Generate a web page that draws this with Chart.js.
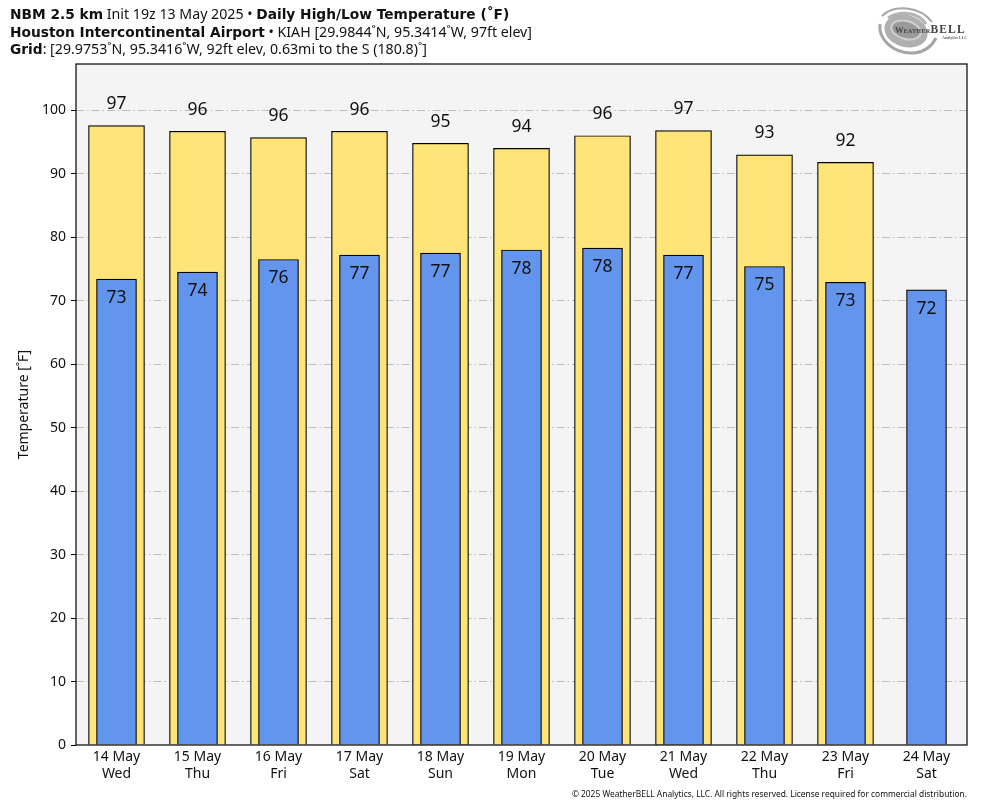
<!DOCTYPE html>
<html lang="en">
<head>
  <meta charset="UTF-8">
  <title>NBM 2.5 km Daily High/Low Temperature</title>
  <script src="https://cdn.jsdelivr.net/npm/chart.js"></script>
  <style>
    body {
      margin: 0;
      background: white;
      font-family: "Noto Sans", sans-serif;
      color: #111;
    }
    #wrap {
      position: relative;
      width: 984px;
      height: 808px;
      overflow: hidden;
    }
    canvas {
      position: absolute;
      left: 0;
      top: 0;
    }
    .head {
      position: absolute;
      left: 10px;
      font-size: 14.2px;
      line-height: 18px;
      white-space: nowrap;
    }
    .head b {
      font-family: "DejaVu Sans", sans-serif;
      font-size: 13.75px;
    }
    #copy {
      position: absolute;
      right: 17px;
      top: 788px;
      font-size: 8.4px;
      line-height: 12px;
      white-space: nowrap;
    }
    #logo {
      position: absolute;
      left: 876px;
      top: 4px;
    }
  </style>
</head>
<body>
  <div id="wrap">
    <canvas id="tempChart" width="984" height="808"></canvas>
    <div class="head" style="top:5px"><b>NBM 2.5 km</b> Init 19z 13 May 2025 • <b>Daily High/Low Temperature (˚F)</b></div>
    <div class="head" style="top:23px"><b>Houston Intercontinental Airport</b> • KIAH [29.9844˚N, 95.3414˚W, 97ft elev]</div>
    <div class="head" style="top:40px"><b>Grid</b>: [29.9753˚N, 95.3416˚W, 92ft elev, 0.63mi to the S (180.8)˚]</div>
    <svg id="logo" width="100" height="54" viewBox="0 0 100 54">
      <defs><filter id="soft"><feGaussianBlur stdDeviation="0.5"/></filter></defs>
      <g filter="url(#soft)" fill="none" stroke="#a6a6a6">
        <path d="M6 12 C18 0 44 2 56 18" stroke-width="2"/>
        <path d="M4 20 C2 34 16 50 38 49 C48 48 56 42 60 34" stroke-width="3"/>
        <path d="M12 14 C24 6 42 8 50 20" stroke-width="3" stroke="#b4b4b4"/>
        <ellipse cx="30" cy="27" rx="22" ry="16" stroke="none" fill="#b0b0b0" transform="rotate(15 30 27)"/>
        <ellipse cx="30" cy="26" rx="15" ry="9" stroke="#d0d0d0" stroke-width="2" fill="#9a9a9a" transform="rotate(15 30 26)"/>
      </g>
      <text x="19" y="29" font-family="Liberation Serif" font-size="8.5" fill="#444" font-weight="bold">W<tspan font-size="6.2" letter-spacing="0.2">EATHER</tspan><tspan font-size="11.5" letter-spacing="1.2">BELL</tspan></text>
      <text x="66" y="35" font-family="Liberation Serif" font-size="4" font-weight="bold" fill="#666">Analytics LLC</text>
    </svg>
    <div id="copy">© 2025 WeatherBELL Analytics, LLC. All rights reserved. License required for commercial distribution.</div>
  </div>

  <script>
    const days = [['14 May', 'Wed'], ['15 May', 'Thu'], ['16 May', 'Fri'], ['17 May', 'Sat'], ['18 May', 'Sun'], ['19 May', 'Mon'],
      ['20 May', 'Tue'], ['21 May', 'Wed'], ['22 May', 'Thu'], ['23 May', 'Fri'], ['24 May', 'Sat']];
    const highs = [97.6, 96.7, 95.7, 96.7, 94.8, 94.0, 96.0, 96.8, 93.0, 91.8, null];
    const lows = [73.4, 74.5, 76.5, 77.2, 77.5, 78.0, 78.3, 77.2, 75.4, 72.9, 71.7];
    const highLabels = [97, 96, 96, 96, 95, 94, 96, 97, 93, 92, null];
    const lowLabels = [73, 74, 76, 77, 77, 78, 78, 77, 75, 73, 72];

    // panel background, frame and the numbers on the bars
    const panelPlugin = {
      id: 'panel',
      beforeDraw(chart) {
        const { ctx, chartArea: a } = chart;
        ctx.fillStyle = '#f4f4f4';
        ctx.fillRect(a.left, a.top, a.right - a.left, a.bottom - a.top);
      },
      afterDraw(chart) {
        const { ctx, chartArea: a } = chart;
        ctx.save();
        ctx.strokeStyle = 'black';
        ctx.lineWidth = 1.2;
        ctx.strokeRect(a.left, a.top, a.right - a.left, a.bottom - a.top);
        ctx.fillStyle = '#111';
        ctx.font = '17.5px "Noto Sans"';
        ctx.textAlign = 'center';
        ctx.textBaseline = 'middle';
        chart.getDatasetMeta(0).data.forEach((bar, i) => {
          ctx.fillText(lowLabels[i], bar.x, bar.y + 19);
        });
        chart.getDatasetMeta(1).data.forEach((bar, i) => {
          if (highLabels[i] !== null) ctx.fillText(highLabels[i], bar.x, bar.y - 21.5);
        });
        ctx.restore();
      }
    };

    new Chart(document.getElementById('tempChart').getContext('2d'), {
      type: 'bar',
      data: {
        labels: days,
        datasets: [
          { label: 'Low', data: lows, backgroundColor: '#6495ed', borderColor: 'black', borderWidth: 1.2, barThickness: 40 },
          { label: 'High', data: highs, backgroundColor: '#ffe479', borderColor: 'black', borderWidth: 1.2, barThickness: 56 }
        ]
      },
      options: {
        responsive: false,
        animation: false,
        layout: { padding: { top: 64, right: 17, left: 0, bottom: 0 } },
        plugins: { legend: { display: false }, tooltip: { enabled: false } },
        scales: {
          x: {
            stacked: true,
            afterFit(scale) { scale.height = 63; },
            grid: { display: false },
            border: { display: false },
            ticks: { color: '#111', font: { family: 'Noto Sans', size: 14, lineHeight: 1.2 }, maxRotation: 0, padding: -4 }
          },
          y: {
            min: 0,
            max: 107.3,
            afterFit(scale) { scale.width = 76; },
            afterBuildTicks(scale) { scale.ticks = scale.ticks.filter(t => t.value % 10 === 0); },
            border: { display: false, dash: [8, 3, 1.5, 3] },
            grid: {
              color: ctx => (ctx.tick && ctx.tick.value > 0 ? '#bdbdbd' : 'transparent'),
              lineWidth: 1,
              tickColor: 'black',
              tickLength: 5
            },
            ticks: { stepSize: 10, color: '#111', font: { family: 'Noto Sans', size: 14 }, padding: 5 },
            title: { display: true, text: 'Temperature [˚F]', color: '#111', font: { family: 'Noto Sans', size: 14 }, padding: { top: 16, bottom: 0 } }
          }
        }
      },
      plugins: [panelPlugin]
    });
  </script>
</body>
</html>
